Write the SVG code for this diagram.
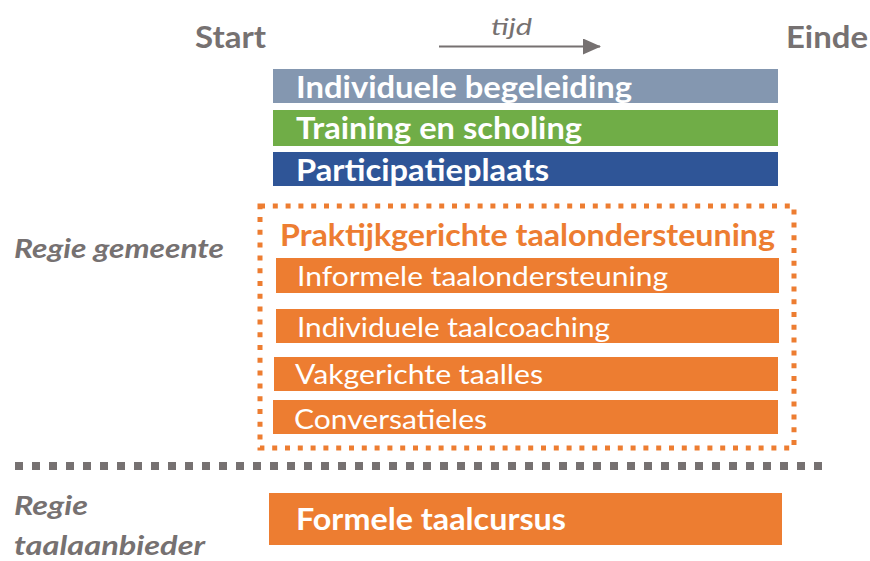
<svg xmlns="http://www.w3.org/2000/svg" width="870" height="561" viewBox="0 0 870 561">
<defs>
<style>
text{font-family:Lato,"Open Sans","Liberation Sans",sans-serif;}
.hdr{font-size:31px;font-weight:bold;fill:#767171;}
.lbl{font-size:27px;font-weight:bold;font-style:italic;fill:#767171;}
.bw{font-size:30px;font-weight:bold;fill:#fff;}
.nw{font-size:27px;fill:#fff;}
.org{fill:#ED7D31;}
</style>
<marker id="ah" markerWidth="9" markerHeight="8" refX="8.5" refY="4" orient="auto" markerUnits="strokeWidth">
<path d="M0,0 L9,4 L0,8 Z" fill="#767171"/>
</marker>
</defs>
<rect width="870" height="561" fill="#fff"/>
<g id="start"><text class="hdr" x="195" y="48" textLength="71" lengthAdjust="spacingAndGlyphs">Start</text></g>
<g id="einde"><text class="hdr" x="786" y="48" textLength="82" lengthAdjust="spacingAndGlyphs">Einde</text></g>
<g id="connectors">
<line x1="439" y1="46.5" x2="600" y2="46.5" stroke="#767171" stroke-width="2" marker-end="url(#ah)"/>
<line x1="15" y1="466" x2="827" y2="466" stroke="#767171" stroke-width="8" stroke-dasharray="8 9"/>
</g>
<g id="tijd"><text x="491" y="35" font-size="24" font-style="italic" fill="#767171" textLength="41" lengthAdjust="spacingAndGlyphs">tijd</text></g>
<g id="individuele-begeleiding">
<rect x="273" y="69" width="505" height="34" fill="#8497B0"/>
<text class="bw" x="296" y="98" textLength="336" lengthAdjust="spacingAndGlyphs">Individuele begeleiding</text>
</g>
<g id="training">
<rect x="273" y="110" width="505" height="36" fill="#70AD47"/>
<text class="bw" x="296" y="139" textLength="286" lengthAdjust="spacingAndGlyphs">Training en scholing</text>
</g>
<g id="participatieplaats">
<rect x="273" y="152" width="505" height="34" fill="#2F5597"/>
<text class="bw" x="296" y="181" textLength="253" lengthAdjust="spacingAndGlyphs">Participatieplaats</text>
</g>
<g id="regie-gemeente"><text class="lbl" x="14" y="258" textLength="210" lengthAdjust="spacingAndGlyphs">Regie gemeente</text></g>
<g id="praktijkgericht">
<rect x="260" y="206" width="534" height="242" fill="none" stroke="#ED7D31" stroke-width="5" stroke-dasharray="5 7.8"/>
<text x="280" y="246" font-size="30" font-weight="bold" fill="#ED7D31" textLength="495" lengthAdjust="spacingAndGlyphs">Praktijkgerichte taalondersteuning</text>
</g>
<g id="informele">
<rect class="org" x="276" y="258" width="503" height="35"/>
<text class="nw" x="297" y="286" textLength="371" lengthAdjust="spacingAndGlyphs">Informele taalondersteuning</text>
</g>
<g id="taalcoaching">
<rect class="org" x="276" y="309" width="503" height="34"/>
<text class="nw" x="297" y="337" textLength="313" lengthAdjust="spacingAndGlyphs">Individuele taalcoaching</text>
</g>
<g id="vakgericht">
<rect class="org" x="274" y="357" width="504" height="34"/>
<text class="nw" x="295" y="384" textLength="248" lengthAdjust="spacingAndGlyphs">Vakgerichte taalles</text>
</g>
<g id="conversatieles">
<rect class="org" x="273" y="400" width="505" height="34"/>
<text class="nw" x="294" y="429" textLength="193" lengthAdjust="spacingAndGlyphs">Conversatieles</text>
</g>
<g id="regie-taalaanbieder">
<text class="lbl" x="14" y="515" textLength="74" lengthAdjust="spacingAndGlyphs">Regie</text>
<text class="lbl" x="14" y="555" textLength="191" lengthAdjust="spacingAndGlyphs">taalaanbieder</text>
</g>
<g id="formele">
<rect class="org" x="269" y="493" width="513" height="52"/>
<text class="bw" x="296" y="530" textLength="270" lengthAdjust="spacingAndGlyphs">Formele taalcursus</text>
</g>
</svg>
